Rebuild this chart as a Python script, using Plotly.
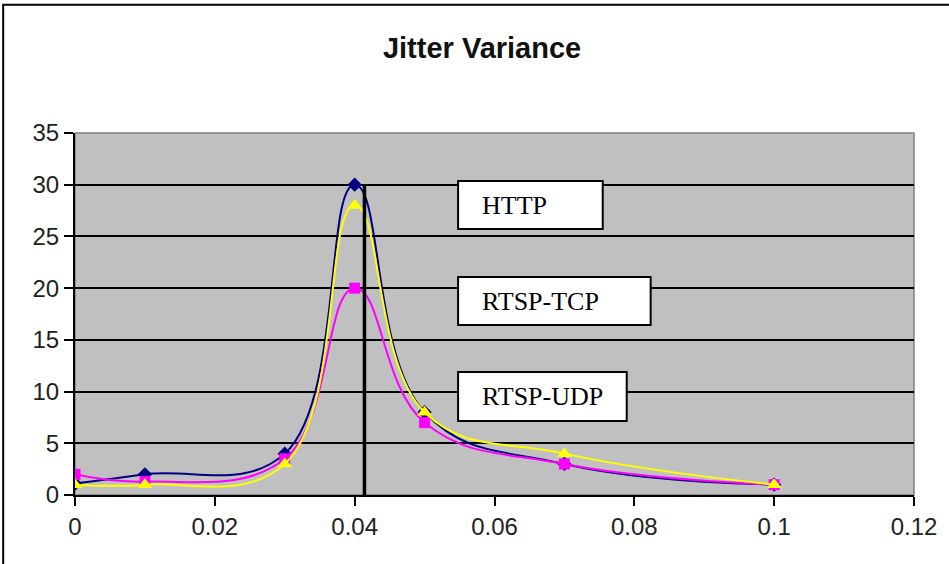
import plotly.graph_objects as go

# ---- data ----
loss = [0, 0.01, 0.03, 0.04, 0.05, 0.07, 0.1]
http = [1.1, 2, 4, 30, 8, 3, 1]
rtsp_udp = [2, 1.3, 3.5, 20, 7, 3, 1]
rtsp_tcp = [1, 1, 3, 28, 8, 4, 1]
x_ticks = [0, 0.02, 0.04, 0.06, 0.08, 0.1, 0.12]
x_tick_labels = ["0", "0.02", "0.04", "0.06", "0.08", "0.1", "0.12"]
y_ticks = [0, 5, 10, 15, 20, 25, 30, 35]
marker_line_x = 0.0414
marker_line_top = 30
labels = ["HTTP", "RTSP-TCP", "RTSP-UDP"]

SMOOTH = 1.2

fig = go.Figure()
fig.add_trace(go.Scatter(x=loss, y=http, mode="lines+markers", name="HTTP",
                         line=dict(color="#000080", width=2, shape="spline", smoothing=SMOOTH),
                         marker=dict(symbol="diamond", size=11, color="#000080")))
fig.add_trace(go.Scatter(x=loss, y=rtsp_udp, mode="lines+markers", name="RTSP-UDP",
                         line=dict(color="#FF00FF", width=2, shape="spline", smoothing=SMOOTH),
                         marker=dict(symbol="square", size=11, color="#FF00FF")))
fig.add_trace(go.Scatter(x=loss, y=rtsp_tcp, mode="lines+markers", name="RTSP-TCP",
                         line=dict(color="#FFFF00", width=2, shape="spline", smoothing=SMOOTH),
                         marker=dict(symbol="triangle-up", size=13, color="#FFFF00")))

shapes = [
    # plot area border
    dict(type="rect", xref="paper", yref="paper", x0=0, x1=1, y0=0, y1=1,
         line=dict(color="#808080", width=1.5), layer="below"),
    # vertical marker line
    dict(type="line", xref="x", yref="y", x0=marker_line_x, x1=marker_line_x,
         y0=0, y1=marker_line_top, line=dict(color="black", width=3.5)),
    # outer chart frame (top and left)
    dict(type="line", xref="paper", yref="paper", x0=-0.0868, x1=1.2, y0=1.354, y1=1.354,
         line=dict(color="black", width=2)),
    dict(type="line", xref="paper", yref="paper", x0=-0.0856, x1=-0.0856, y0=1.354, y1=-0.3,
         line=dict(color="black", width=2)),
]

# label boxes (paper coords)
boxes = [
    (0.4566, 0.629, 0.7348, 0.8674),
    (0.4566, 0.6861, 0.4696, 0.6022),
    (0.4566, 0.6576, 0.2044, 0.3398),
]
annotations = []
for text, (x0, x1, y0, y1) in zip(labels, boxes):
    shapes.append(dict(type="rect", xref="paper", yref="paper", x0=x0, x1=x1, y0=y0, y1=y1,
                       fillcolor="white", line=dict(color="black", width=2)))
    annotations.append(dict(text=text, xref="paper", yref="paper", x=0.4828, y=(y0 + y1) / 2,
                            xanchor="left", yanchor="middle", showarrow=False,
                            font=dict(family="Liberation Serif", size=26, color="black")))

fig.update_layout(
    width=949, height=564,
    margin=dict(l=75, r=33, t=133, b=69),
    paper_bgcolor="white", plot_bgcolor="#C0C0C0",
    showlegend=False,
    title=dict(text="<b>Jitter Variance</b>", x=0.508, xanchor="center", y=0.915, yanchor="middle",
               font=dict(family="Liberation Sans", size=29, color="#111111")),
    shapes=shapes, annotations=annotations,
    font=dict(family="Liberation Sans", size=24, color="#222222"),
)
fig.update_xaxes(range=[0, 0.12], tickvals=x_ticks, ticktext=x_tick_labels,
                 showgrid=False, zeroline=False, showline=True, linecolor="black", linewidth=2,
                 ticks="outside", ticklen=9, tickwidth=2, tickcolor="black",
                 tickfont=dict(size=24, color="#222222"))
fig.update_yaxes(range=[0, 35], tickvals=y_ticks,
                 showgrid=True, gridcolor="black", gridwidth=2, zeroline=False,
                 showline=True, linecolor="black", linewidth=2,
                 ticks="outside", ticklen=9, tickwidth=2, tickcolor="black",
                 tickfont=dict(size=24, color="#222222"))

fig.write_html("out.html")
